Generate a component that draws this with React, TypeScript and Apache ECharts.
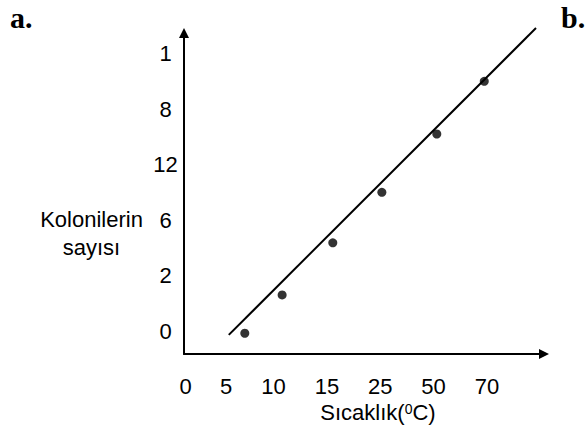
import React, { useEffect, useRef } from 'react';
import * as echarts from 'echarts';

// Tick labels (as printed) and the axis slots they sit at
const xTickLabels = ['0', '5', '10', '15', '25', '50', '70'];
const xTickSlots = [0.35, 1.11, 2, 3, 4, 5, 6];
const yTickLabels = ['0', '2', '6', '12', '8', '1'];
const yTickSlots = [0, 1, 2, 3, 4, 5];

// Measured points (in axis slot units)
const pointX = [1.46, 2.16, 3.11, 4.03, 5.06, 5.95];
const pointY = [-0.04, 0.65, 1.59, 2.5, 3.55, 4.5];

// Fitted straight line end points
const fitX = [1.16, 6.92];
const fitY = [-0.07, 5.46];

const xTitle = 'Sıcaklık({sup|0}C)';
const yTitle = 'Kolonilerin\nsayısı';

const FONT = '"Liberation Sans", Arial, sans-serif';
const FS = 22;

function labelFor(slots: number[], labels: string[], v: number): string {
  for (let i = 0; i < slots.length; i++) {
    if (Math.abs(slots[i] - v) < 1e-6) return labels[i];
  }
  return '';
}

export default function App() {
  const ref = useRef<HTMLDivElement>(null);
  useEffect(() => {
    if (!ref.current) return;
    const chart = echarts.init(ref.current, undefined, { renderer: 'svg' });
    const axisLine = {
      show: true,
      onZero: false,
      symbol: ['none', 'triangle'],
      symbolSize: [10, 10],
      lineStyle: { color: '#000', width: 2 },
    };
    chart.setOption({
      animation: false,
      backgroundColor: '#fff',
      grid: { left: 184, right: 42, top: 33, bottom: 78, containLabel: false },
      xAxis: {
        type: 'value',
        min: 0.32,
        max: 7.07,
        axisLine,
        axisTick: { show: false },
        splitLine: { show: false },
        axisLabel: {
          customValues: xTickSlots,
          formatter: (v: number) => labelFor(xTickSlots, xTickLabels, v),
          margin: 32,
          verticalAlign: 'middle',
          fontSize: FS,
          color: '#000',
          fontFamily: FONT,
        },
        name: xTitle,
        nameLocation: 'middle',
        nameGap: 58,
        nameTextStyle: {
          color: '#000',
          fontSize: FS,
          fontFamily: FONT,
          padding: [0, 0, 0, 28],
          verticalAlign: 'middle',
          rich: {
            sup: { fontSize: 14, fontFamily: FONT, color: '#000', verticalAlign: 'top', padding: [0, 0, 6, 0] },
          },
        },
      },
      yAxis: {
        type: 'value',
        min: -0.414,
        max: 5.37,
        axisLine,
        axisTick: { show: false },
        splitLine: { show: false },
        axisLabel: {
          customValues: yTickSlots,
          formatter: (v: number) => labelFor(yTickSlots, yTickLabels, v),
          margin: 18.5,
          align: 'center',
          fontSize: FS,
          color: '#000',
          fontFamily: FONT,
        },
      },
      graphic: [
        {
          type: 'text',
          x: 91.5,
          y: 205,
          style: {
            text: yTitle,
            fontSize: FS,
            fontFamily: FONT,
            fill: '#000',
            align: 'center',
            verticalAlign: 'top',
            lineHeight: 28,
          },
        },
        {
          type: 'text',
          x: 10,
          y: 17,
          style: {
            text: 'a.',
            fontSize: 30,
            fontWeight: 'bold',
            fontFamily: '"Liberation Serif", "Times New Roman", serif',
            fill: '#000',
            align: 'left',
            verticalAlign: 'middle',
          },
        },
        {
          type: 'text',
          x: 561,
          y: 17,
          style: {
            text: 'b.',
            fontSize: 30,
            fontWeight: 'bold',
            fontFamily: '"Liberation Serif", "Times New Roman", serif',
            fill: '#000',
            align: 'left',
            verticalAlign: 'middle',
          },
        },
      ],
      series: [
        {
          type: 'line',
          data: fitX.map((x, i) => [x, fitY[i]]),
          symbol: 'none',
          clip: false,
          lineStyle: { color: '#000', width: 2 },
          silent: true,
        },
        {
          type: 'scatter',
          data: pointX.map((x, i) => [x, pointY[i]]),
          symbol: 'circle',
          symbolSize: 9,
          itemStyle: { color: '#000' },
          clip: false,
        },
      ],
    });
    return () => chart.dispose();
  }, []);
  return (
    <div
      ref={ref}
      style={{ position: 'fixed', left: 0, top: 0, width: 586, height: 432, background: '#fff' }}
    />
  );
}
